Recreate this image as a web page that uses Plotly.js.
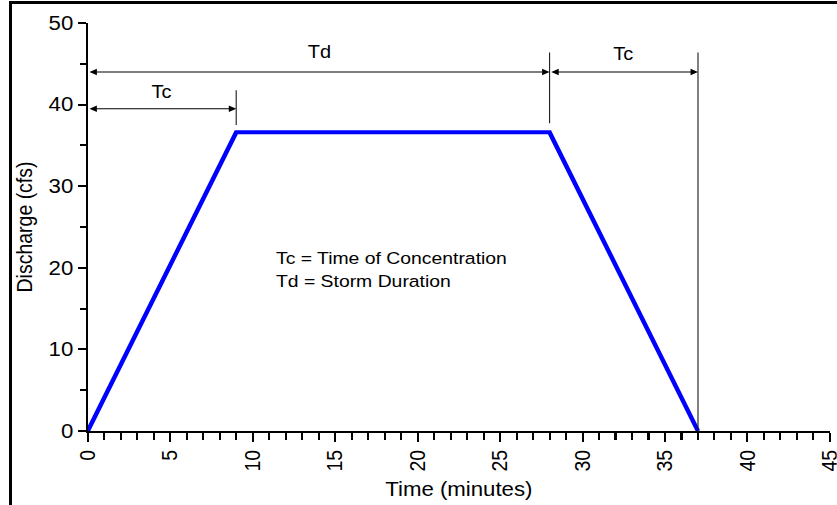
<!DOCTYPE html>
<html>
<head>
<meta charset="utf-8">
<script src="https://cdn.plot.ly/plotly-3.0.1.min.js"></script>
<style>
  html, body { margin: 0; padding: 0; background: #fff; }
  #wrap { position: relative; width: 837px; height: 505px; overflow: hidden; }
  #chart { position: absolute; left: 0; top: 0; width: 734px; height: 505px;
           transform: scaleX(1.14); transform-origin: 0 0; }
  #frame { position: absolute; left: 9px; top: 1px; width: 900px; height: 600px;
           border-top: 3px solid #000; border-left: 3px solid #000; pointer-events: none; }
</style>
</head>
<body>
<div id="wrap">
  <div id="chart"></div>
  <div id="frame"></div>
</div>
<script>
// Hydrograph vertices
const time = [0, 9, 28, 37];          // minutes
const discharge = [0, 36.6, 36.6, 0]; // cfs

// Dimension labels
const tcLabel = "Tc";
const tdLabel = "Td";
const noteLines = ["Tc = Time of Concentration", "Td = Storm Duration"];

const xTickVals = [0, 5, 10, 15, 20, 25, 30, 35, 40, 45];
const yTickVals = [0, 10, 20, 30, 40, 50];

const tStart = time[0], tPeak = time[1], tFall = time[2], tEnd = time[3];
const qPeak = discharge[1];

const FONT = "Liberation Sans, Arial, sans-serif";

const trace = {
  x: time, y: discharge, type: "scatter", mode: "lines",
  line: { color: "#0000ff", width: 4 }, hoverinfo: "skip"
};

function dimArrow(x0, x1, y) {
  return {
    x: x1, y: y, ax: x0, ay: y, xref: "x", yref: "y", axref: "x", ayref: "y",
    text: "", showarrow: true, arrowside: "end+start",
    arrowhead: 2, startarrowhead: 2, arrowsize: 1.3, startarrowsize: 1.3,
    arrowwidth: 1, arrowcolor: "#000", standoff: 0, startstandoff: 0
  };
}
function label(txt, x, y, size, opts) {
  return Object.assign({
    x: x, y: y, xref: "x", yref: "y", text: txt, showarrow: false,
    font: { family: FONT, size: size, color: "#000" }
  }, opts || {});
}
function vline(x, y0, y1) {
  return { type: "line", xref: "x", yref: "y", x0: x, x1: x, y0: y0, y1: y1,
           line: { color: "#222", width: 1 } };
}

const layout = {
  width: 734, height: 505,
  margin: { l: 77.2, r: 5.7, t: 22.5, b: 73.5 },
  paper_bgcolor: "rgba(0,0,0,0)", plot_bgcolor: "rgba(0,0,0,0)",
  showlegend: false,
  font: { family: FONT, color: "#000" },
  xaxis: {
    range: [0, 45], tickvals: xTickVals, ticktext: xTickVals.map(String),
    tickangle: -90, showgrid: false, zeroline: false, ticklabeloverflow: "allow",
    showline: true, linecolor: "#000", linewidth: 2,
    ticks: "outside", ticklen: 9, tickwidth: 1.8, tickcolor: "#000",
    minor: { dtick: 1, ticks: "outside", ticklen: 7, tickwidth: 1.8, tickcolor: "#000", showgrid: false },
    tickfont: { family: FONT, size: 19.5, color: "#000" },
    title: { text: "Time (minutes)", font: { family: FONT, size: 19.5, color: "#000" }, standoff: 12 },
    automargin: false, fixedrange: true
  },
  yaxis: {
    range: [0, 50], tickvals: yTickVals, ticktext: yTickVals.map(String),
    showgrid: false, zeroline: false, ticklabeloverflow: "allow",
    showline: true, linecolor: "#000", linewidth: 1.8,
    ticks: "outside", ticklen: 7, tickwidth: 2, tickcolor: "#000",
    minor: { dtick: 5, ticks: "outside", ticklen: 5, tickwidth: 2, tickcolor: "#000", showgrid: false },
    tickfont: { family: FONT, size: 19.5, color: "#000" },
    title: { text: "Discharge (cfs)", font: { family: FONT, size: 19.5, color: "#000" }, standoff: 9 },
    automargin: false, fixedrange: true
  },
  shapes: [
    vline(tPeak, qPeak + 0.9, qPeak + 5.15),
    vline(tFall, qPeak + 1.1, qPeak + 9.8),
    vline(tEnd, 0, qPeak + 9.8)
  ],
  annotations: [
    dimArrow(tStart, tFall, 44),
    dimArrow(tStart, tPeak, 39.5),
    dimArrow(tFall, tEnd, 44),
    label(tdLabel, (tStart + tFall) / 2, 46.4, 17.5),
    label(tcLabel, (tStart + tPeak) / 2, 41.5, 17.5),
    label(tcLabel, (tFall + tEnd) / 2, 46.2, 17.5),
    label(noteLines[0], 11.3, 21.2, 17, { xanchor: "left" }),
    label(noteLines[1], 11.3, 18.3, 17, { xanchor: "left" })
  ]
};

Plotly.newPlot("chart", [trace], layout, { staticPlot: true, displayModeBar: false });
</script>
</body>
</html>
